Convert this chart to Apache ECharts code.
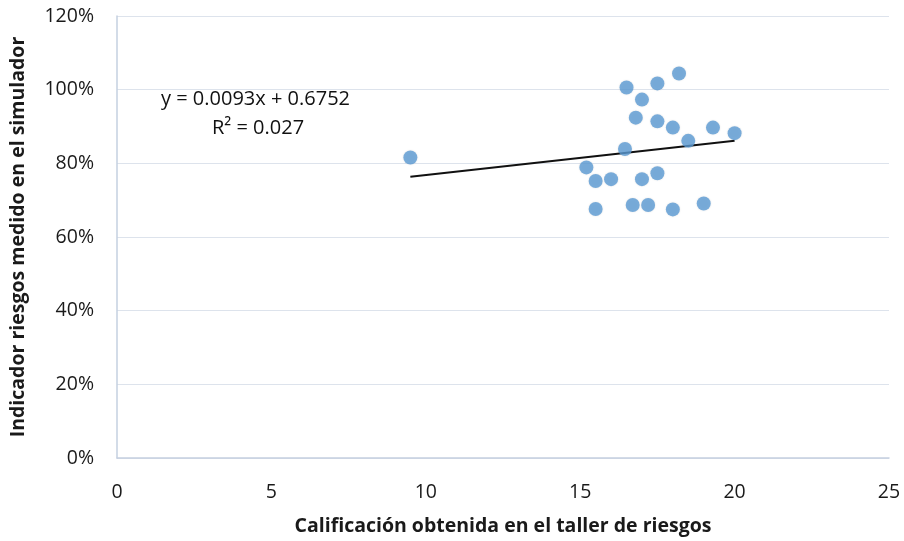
<!DOCTYPE html>
<html>
<head>
<meta charset="utf-8">
<script src="https://cdn.jsdelivr.net/npm/echarts@6/dist/echarts.min.js"></script>
<style>
  html, body { margin: 0; padding: 0; background: #fff; }
  #chart { width: 904px; height: 541px; }
</style>
</head>
<body>
<div id="chart"></div>
<script>
// Calificación del taller (x) vs. indicador de riesgos del simulador (y, fracción)
const calificacion = [9.5, 15.2, 15.5, 16.0, 15.5, 16.45, 16.5, 17.0, 16.8, 16.7, 17.2,
                      17.0, 17.5, 17.5, 17.5, 18.0, 18.0, 18.2, 18.5, 19.0, 19.3, 20.0];
const indicador    = [0.816, 0.789, 0.752, 0.757, 0.676, 0.839, 1.006, 0.973, 0.924, 0.687, 0.687,
                      0.757, 0.773, 1.017, 0.914, 0.897, 0.675, 1.044, 0.861, 0.691, 0.897, 0.882];

// Línea de tendencia lineal
const pendiente = 0.0093;
const intercepto = 0.6752;
const r2 = 0.027;
const xTicks = [0, 5, 10, 15, 20, 25];

const puntos = calificacion.map((x, i) => [x, indicador[i]]);
const xMin = Math.min(...calificacion);
const xMax = Math.max(...calificacion);
const tendencia = [xMin, xMax].map(x => [x, pendiente * x + intercepto]);

const FONT = '"Open Sans", "Liberation Sans", sans-serif';
const chart = echarts.init(document.getElementById('chart'));
chart.setOption({
  animation: false,
  grid: { left: 117, right: 15, top: 16, bottom: 83 },
  xAxis: {
    type: 'value',
    min: xTicks[0], max: xTicks[xTicks.length - 1], interval: 5,
    name: 'Calificación obtenida en el taller de riesgos',
    nameLocation: 'middle', nameGap: 58,
    nameTextStyle: { fontFamily: FONT, fontSize: 19.5, fontWeight: 'bold', color: '#1a1a1a' },
    axisLine: { show: true, lineStyle: { color: '#c5d0e0', width: 1.5 } },
    axisTick: { show: false },
    splitLine: { show: false },
    axisLabel: { fontFamily: FONT, fontSize: 19.5, color: '#1a1a1a', margin: 24 }
  },
  yAxis: {
    type: 'value',
    min: 0, max: 1.2, interval: 0.2,
    name: 'Indicador riesgos medido en el simulador',
    nameLocation: 'middle', nameGap: 89,
    nameTextStyle: { fontFamily: FONT, fontSize: 19.5, fontWeight: 'bold', color: '#1a1a1a' },
    axisLine: { show: true, lineStyle: { color: '#c5d0e0', width: 1.5 } },
    axisTick: { show: false },
    splitLine: { show: true, lineStyle: { color: '#dde3ec', width: 1.2 } },
    axisLabel: {
      fontFamily: FONT, fontSize: 19.5, color: '#1a1a1a', margin: 23,
      formatter: v => Math.round(v * 100) + '%'
    }
  },
  series: [
    {
      type: 'line',
      data: tendencia,
      symbol: 'none',
      lineStyle: { color: '#111', width: 2 },
      z: 3
    },
    {
      type: 'scatter',
      data: puntos,
      symbolSize: 14,
      itemStyle: {
        color: '#5b9bd5',
        shadowColor: 'rgba(0,0,0,0.15)', shadowBlur: 2
      },
      z: 4
    }
  ],
  graphic: [
    {
      type: 'text', left: 161, top: 89,
      style: {
        text: 'y = ' + pendiente.toFixed(4) + 'x + ' + intercepto.toFixed(4),
        font: '20px ' + FONT, fill: '#111'
      }
    },
    {
      type: 'text', left: 212, top: 118,
      style: { text: 'R² = ' + r2.toFixed(3), font: '20px ' + FONT, fill: '#111' }
    }
  ]
});
</script>
</body>
</html>
